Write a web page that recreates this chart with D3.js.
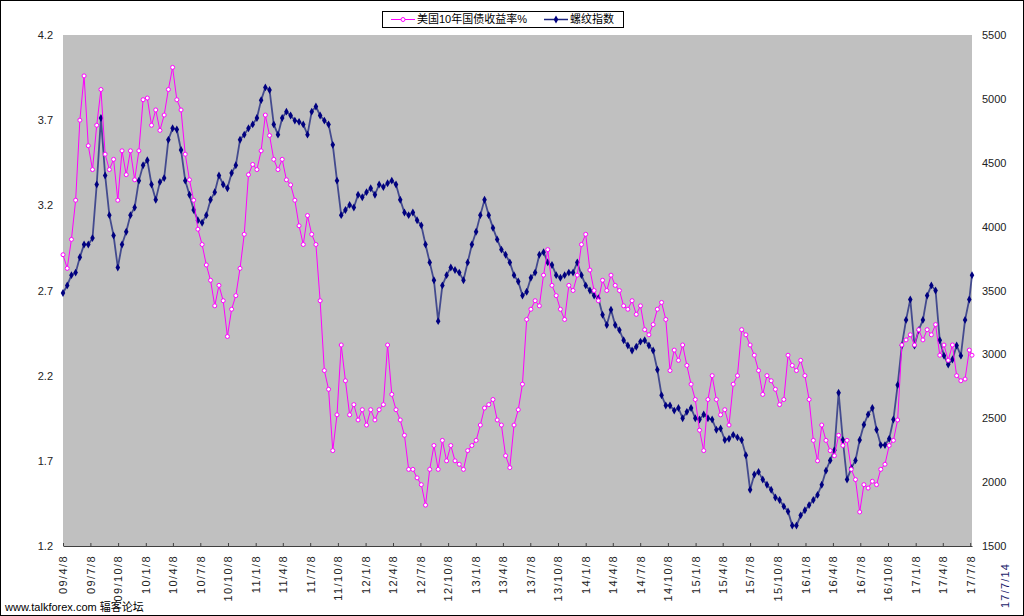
<!DOCTYPE html>
<html><head><meta charset="utf-8">
<script src="https://cdn.jsdelivr.net/npm/d3@7"></script>
<style>
body{margin:0;background:#fff}
svg{display:block}
text{font-family:"Liberation Sans",Arial,"Noto Sans CJK SC",sans-serif}
</style>
</head><body>
<svg id="chart" width="1024" height="616"></svg>
<script>
const seriesNames = ["美国10年国债收益率%", "螺纹指数"];
const watermark = "www.talkforex.com 辐客论坛";
const tickLabels = ["09/4/8","09/7/8","09/10/8","10/1/8","10/4/8","10/7/8","10/10/8","11/1/8","11/4/8","11/7/8","11/10/8",
  "12/1/8","12/4/8","12/7/8","12/10/8","13/1/8","13/4/8","13/7/8","13/10/8","14/1/8","14/4/8","14/7/8","14/10/8",
  "15/1/8","15/4/8","15/7/8","15/10/8","16/1/8","16/4/8","16/7/8","16/10/8","17/1/8","17/4/8","17/7/8"];
const endLabel = "17/7/14";
const leftTicks = [1.2, 1.7, 2.2, 2.7, 3.2, 3.7, 4.2];
const rightTicks = [1500, 2000, 2500, 3000, 3500, 4000, 4500, 5000, 5500];

const dates = [
 "2009-04-08","2009-04-22","2009-05-06","2009-05-20","2009-06-03","2009-06-17","2009-07-01","2009-07-15","2009-07-29","2009-08-12","2009-08-26","2009-09-09","2009-09-23","2009-10-07","2009-10-21","2009-11-04","2009-11-18","2009-12-02","2009-12-16","2009-12-30",
 "2010-01-13","2010-01-27","2010-02-10","2010-02-24","2010-03-10","2010-03-24","2010-04-07","2010-04-21","2010-05-05","2010-05-19","2010-06-02","2010-06-16","2010-06-30","2010-07-14","2010-07-28","2010-08-11","2010-08-25","2010-09-08","2010-09-22","2010-10-06","2010-10-20","2010-11-03","2010-11-17","2010-12-01","2010-12-15","2010-12-29",
 "2011-01-12","2011-01-26","2011-02-09","2011-02-23","2011-03-09","2011-03-23","2011-04-06","2011-04-20","2011-05-04","2011-05-18","2011-06-01","2011-06-15","2011-06-29","2011-07-13","2011-07-27","2011-08-10","2011-08-24","2011-09-07","2011-09-21","2011-10-05","2011-10-19","2011-11-02","2011-11-16","2011-11-30","2011-12-14","2011-12-28",
 "2012-01-11","2012-01-25","2012-02-08","2012-02-22","2012-03-07","2012-03-21","2012-04-04","2012-04-18","2012-05-02","2012-05-16","2012-05-30","2012-06-13","2012-06-27","2012-07-11","2012-07-25","2012-08-08","2012-08-22","2012-09-05","2012-09-19","2012-10-03","2012-10-17","2012-10-31","2012-11-14","2012-11-28","2012-12-12","2012-12-26",
 "2013-01-09","2013-01-23","2013-02-06","2013-02-20","2013-03-06","2013-03-20","2013-04-03","2013-04-17","2013-05-01","2013-05-15","2013-05-29","2013-06-12","2013-06-26","2013-07-10","2013-07-24","2013-08-07","2013-08-21","2013-09-04","2013-09-18","2013-10-02","2013-10-16","2013-10-30","2013-11-13","2013-11-27","2013-12-11","2013-12-25",
 "2014-01-08","2014-01-22","2014-02-05","2014-02-19","2014-03-05","2014-03-19","2014-04-02","2014-04-16","2014-04-30","2014-05-14","2014-05-28","2014-06-11","2014-06-25","2014-07-09","2014-07-23","2014-08-06","2014-08-20","2014-09-03","2014-09-17","2014-10-01","2014-10-15","2014-10-29","2014-11-12","2014-11-26","2014-12-10","2014-12-24",
 "2015-01-07","2015-01-21","2015-02-04","2015-02-18","2015-03-04","2015-03-18","2015-04-01","2015-04-15","2015-04-29","2015-05-13","2015-05-27","2015-06-10","2015-06-24","2015-07-08","2015-07-22","2015-08-05","2015-08-19","2015-09-02","2015-09-16","2015-09-30","2015-10-14","2015-10-28","2015-11-11","2015-11-25","2015-12-09","2015-12-23",
 "2016-01-06","2016-01-20","2016-02-03","2016-02-17","2016-03-02","2016-03-16","2016-03-30","2016-04-13","2016-04-27","2016-05-11","2016-05-25","2016-06-08","2016-06-22","2016-07-06","2016-07-20","2016-08-03","2016-08-17","2016-08-31","2016-09-14","2016-09-28","2016-10-12","2016-10-26","2016-11-09","2016-11-23","2016-12-07","2016-12-21",
 "2017-01-04","2017-01-18","2017-02-01","2017-02-15","2017-03-01","2017-03-15","2017-03-29","2017-04-12","2017-04-26","2017-05-10","2017-05-24","2017-06-07","2017-06-21","2017-07-05","2017-07-14"
];

const yieldVals = [
 2.91,2.83,3.00,3.23,3.70,3.96,3.55,3.41,3.67,3.88,3.50,3.41,3.47,3.23,3.52,3.38,3.52,3.35,3.52,3.82,
 3.83,3.67,3.76,3.64,3.73,3.88,4.01,3.82,3.76,3.50,3.35,3.23,3.06,2.97,2.85,2.76,2.61,2.73,2.64,2.43,2.59,2.67,2.83,3.03,3.38,3.44,
 3.41,3.52,3.73,3.61,3.47,3.41,3.47,3.35,3.32,3.23,3.08,2.97,3.14,3.03,2.97,2.64,2.23,2.12,1.76,1.97,2.38,2.17,1.97,2.03,1.94,2.00,
 1.91,2.00,1.94,2.00,2.03,2.38,2.09,2.00,1.94,1.85,1.65,1.65,1.60,1.56,1.44,1.65,1.79,1.65,1.82,1.70,1.79,1.70,1.68,1.65,1.76,1.79,
 1.82,1.91,2.01,2.03,2.06,1.94,1.91,1.73,1.66,1.91,2.00,2.15,2.53,2.59,2.64,2.61,2.79,2.94,2.73,2.67,2.59,2.53,2.73,2.70,2.79,2.97,
 3.03,2.82,2.70,2.64,2.76,2.70,2.79,2.73,2.70,2.61,2.59,2.64,2.56,2.61,2.47,2.44,2.50,2.59,2.63,2.53,2.23,2.35,2.29,2.38,2.26,2.15,
 2.06,1.88,1.76,2.06,2.20,2.06,1.97,2.00,1.91,2.15,2.20,2.47,2.44,2.38,2.32,2.23,2.09,2.20,2.17,2.12,2.03,2.06,2.32,2.26,2.23,2.29,
 2.20,2.06,1.82,1.70,1.91,1.82,1.76,1.73,1.85,1.79,1.82,1.65,1.59,1.40,1.56,1.54,1.58,1.56,1.65,1.68,1.79,1.82,1.94,2.38,2.41,2.44,
 2.38,2.47,2.41,2.47,2.44,2.50,2.32,2.38,2.29,2.38,2.20,2.17,2.18,2.35,2.32
];

const rebarVals = [
 3480,3540,3620,3640,3760,3860,3860,3910,4330,4850,4400,4090,3930,3680,3860,3960,4090,4150,4360,4480,
 4520,4330,4210,4350,4380,4680,4770,4760,4600,4360,4250,4130,4050,4030,4090,4210,4270,4400,4330,4300,4420,4480,4680,4720,4770,4800,
 4850,4990,5090,5070,4800,4720,4850,4900,4870,4830,4820,4800,4720,4900,4940,4870,4830,4800,4640,4360,4090,4130,4170,4150,4250,4230,
 4270,4300,4250,4330,4310,4340,4360,4330,4210,4110,4090,4110,4050,4010,3860,3720,3580,3260,3540,3620,3680,3660,3640,3580,3720,3860,
 3960,4090,4210,4090,3990,3900,3820,3780,3720,3620,3570,3460,3490,3600,3640,3780,3800,3720,3700,3620,3600,3620,3640,3640,3720,3620,
 3540,3500,3460,3440,3310,3230,3350,3230,3190,3110,3070,3030,3060,3100,3110,3070,3030,2880,2680,2600,2600,2560,2580,2500,2550,2580,
 2500,2490,2530,2500,2490,2410,2420,2330,2340,2370,2350,2330,2210,1940,2060,2080,2020,1980,1940,1880,1860,1810,1770,1660,1660,1740,
 1780,1820,1860,1900,1980,2090,2170,2250,2700,2330,2020,2110,2170,2330,2450,2530,2580,2410,2290,2290,2340,2490,2760,3070,3270,3430,
 3070,3190,3270,3460,3540,3500,3110,2990,2920,2960,3070,2990,3270,3430,3620
];

const W = 1024, H = 616;
const plot = {left: 63, right: 972, top: 35, bottom: 546};
const parseISO = d3.timeParse("%Y-%m-%d");
const parseTick = d3.timeParse("%y/%m/%d");

const svg = d3.select("#chart");

svg.append("rect").attr("x", 0.5).attr("y", 0.5).attr("width", W - 1).attr("height", H - 1)
  .attr("fill", "#fff").attr("stroke", "#000");

svg.append("rect").attr("x", plot.left).attr("y", plot.top)
  .attr("width", plot.right - plot.left).attr("height", plot.bottom - plot.top)
  .attr("fill", "#c0c0c0");

const x = d3.scaleTime()
  .domain([parseISO(dates[0]), parseISO(dates[dates.length - 1])])
  .range([plot.left, plot.right]);
const yL = d3.scaleLinear().domain([1.2, 4.2]).range([plot.bottom, plot.top]);
const yR = d3.scaleLinear().domain([1500, 5500]).range([plot.bottom, plot.top]);

const gL = svg.append("g").attr("transform", `translate(${plot.left},0)`)
  .call(d3.axisLeft(yL).tickValues(leftTicks).tickSize(0).tickPadding(10).tickFormat(d3.format(".1f")));
gL.select(".domain").remove();
gL.selectAll("text").attr("font-size", 11).attr("fill", "#222")
  .attr("font-family", "'Liberation Sans', Arial, sans-serif");

const gR = svg.append("g").attr("transform", `translate(${plot.right},0)`)
  .call(d3.axisRight(yR).tickValues(rightTicks).tickSize(0).tickPadding(10).tickFormat(d3.format("d")));
gR.select(".domain").remove();
gR.selectAll("text").attr("font-size", 11).attr("fill", "#222")
  .attr("font-family", "'Liberation Sans', Arial, sans-serif");

const tickDates = tickLabels.map(parseTick);
const gB = svg.append("g").attr("transform", `translate(0,${plot.bottom})`)
  .call(d3.axisBottom(x).tickValues(tickDates).tickSizeInner(-3).tickSizeOuter(0)
    .tickFormat((d, i) => tickLabels[i]));
gB.select(".domain").attr("stroke", "#404040");
gB.selectAll(".tick line").attr("stroke", "#404040");
gB.selectAll("text")
  .attr("font-size", 11).attr("fill", "#222")
  .attr("font-family", "'Liberation Sans', Arial, sans-serif")
  .attr("letter-spacing", "1.4px")
  .attr("transform", "rotate(-90)")
  .attr("text-anchor", "end")
  .attr("x", -9).attr("y", 0).attr("dy", "0.35em");

svg.append("text")
  .attr("transform", `translate(1009,608) rotate(-90)`)
  .attr("text-anchor", "start")
  .attr("font-size", 11).attr("letter-spacing", "1.2px")
  .attr("fill", "#1a1a6a")
  .text(endLabel);

const rebarData = dates.map((d, i) => ({date: parseISO(d), v: rebarVals[i]}));
const yieldData = dates.map((d, i) => ({date: parseISO(d), v: yieldVals[i]}));

const lineR = d3.line().x(d => x(d.date)).y(d => yR(d.v));
svg.append("path").datum(rebarData).attr("d", lineR)
  .attr("fill", "none").attr("stroke", "#1a237e").attr("stroke-width", 1.8).attr("stroke-opacity", 0.75);
svg.append("g").selectAll("path").data(rebarData).join("path")
  .attr("transform", d => `translate(${x(d.date)},${yR(d.v)})`)
  .attr("d", d3.symbol(d3.symbolDiamond, 18))
  .attr("fill", "#000080");

const lineL = d3.line().x(d => x(d.date)).y(d => yL(d.v));
svg.append("path").datum(yieldData).attr("d", lineL)
  .attr("fill", "none").attr("stroke", "#ff00ff").attr("stroke-width", 1);
svg.append("g").selectAll("circle").data(yieldData).join("circle")
  .attr("cx", d => x(d.date)).attr("cy", d => yL(d.v)).attr("r", 2)
  .attr("fill", "#fff").attr("stroke", "#ff00ff").attr("stroke-width", 1);

const lg = svg.append("g");
lg.append("rect").attr("x", 382.5).attr("y", 11.5).attr("width", 241).attr("height", 16)
  .attr("fill", "#fff").attr("stroke", "#000");
const ly = 19.5;
lg.append("line").attr("x1", 391).attr("x2", 415).attr("y1", ly).attr("y2", ly).attr("stroke", "#ff00ff");
lg.append("circle").attr("cx", 403).attr("cy", ly).attr("r", 2).attr("fill", "#fff").attr("stroke", "#ff00ff");
lg.append("text").attr("x", 417).attr("y", ly).attr("dy", "0.36em").attr("font-size", 11)
  .attr("font-family", "'Noto Sans CJK SC', sans-serif").attr("fill", "#000").text(seriesNames[0]);
lg.append("line").attr("x1", 544).attr("x2", 568).attr("y1", ly).attr("y2", ly).attr("stroke", "#1a237e").attr("stroke-width", 1.5);
lg.append("path").attr("transform", `translate(556,${ly})`).attr("d", d3.symbol(d3.symbolDiamond, 18)).attr("fill", "#000080");
lg.append("text").attr("x", 570).attr("y", ly).attr("dy", "0.36em").attr("font-size", 11)
  .attr("font-family", "'Noto Sans CJK SC', sans-serif").attr("fill", "#000").text(seriesNames[1]);

svg.append("text").attr("x", 5).attr("y", 611).attr("font-size", 11).attr("fill", "#000")
  .attr("font-family", "'Liberation Sans', Arial, 'Noto Sans CJK SC', sans-serif")
  .text(watermark);
</script>
</body></html>
